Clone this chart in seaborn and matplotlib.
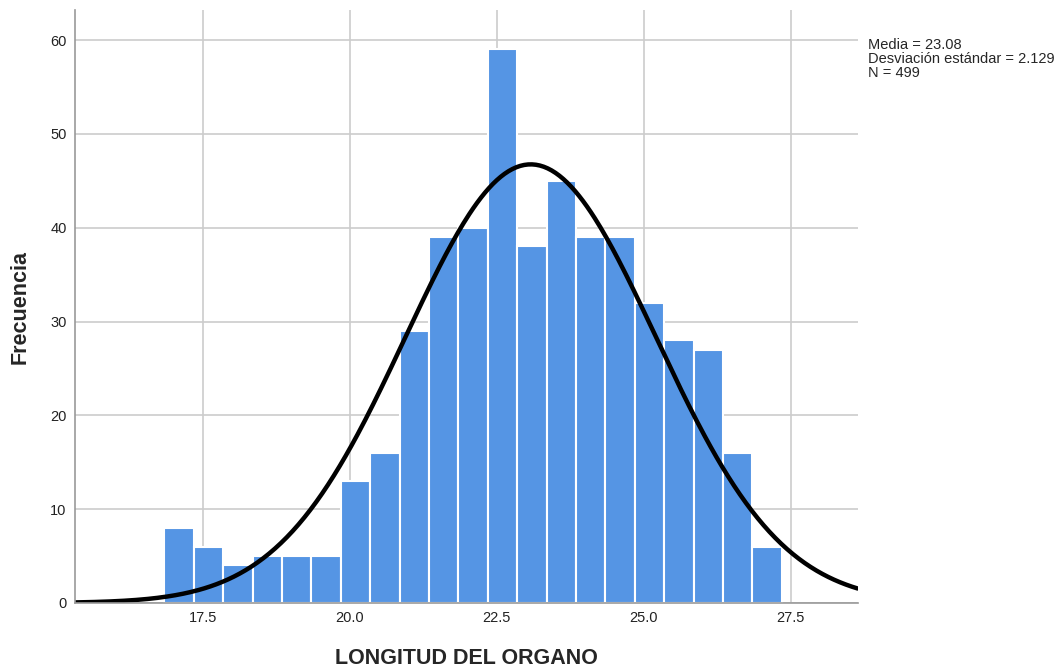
import numpy as np
import pandas as pd
import matplotlib
matplotlib.use("Agg")
import matplotlib.pyplot as plt
import seaborn as sns


# DATA

bin_start = 16.85
bin_width = 0.5
counts = [8, 6, 4, 5, 5, 5, 13, 16, 29, 39, 40, 59, 38, 45, 39, 39, 32, 28, 27, 16, 6]
media = 23.08
desv = 2.129
n_total = 499
x_ticks = [17.5, 20.0, 22.5, 25.0, 27.5]
y_ticks = [0, 10, 20, 30, 40, 50, 60]

edges = [bin_start + bin_width * i for i in range(len(counts) + 1)]
centers = [e + bin_width / 2 for e in edges[:-1]]
hist_df = pd.DataFrame({"longitud": centers, "frecuencia": counts})

# normal curve from the stats shown on the chart
xs = np.linspace(15.33, 28.64, 400)
curve_df = pd.DataFrame({
    "x": xs,
    "y": n_total * bin_width / (desv * np.sqrt(2 * np.pi)) * np.exp(-0.5 * ((xs - media) / desv) ** 2),
})


# PLOT

sns.set_style("white")
plt.rcParams["font.family"] = ["Liberation Sans", "DejaVu Sans"]

fig = plt.figure(figsize=(10.62, 6.7), dpi=100)
ax = fig.add_axes([0.0706, 0.1, 0.737, 0.885])

ax.set_axisbelow(True)
ax.grid(True, color="#cccccc", linewidth=1.2)

sns.histplot(
    data=hist_df,
    x="longitud",
    weights="frecuencia",
    bins=edges,
    color="#5595e4",
    alpha=1,
    edgecolor="white",
    linewidth=1.5,
    ax=ax,
)

sns.lineplot(data=curve_df, x="x", y="y", color="black", linewidth=3.2, ax=ax)

ax.set_xlim(15.33, 28.64)
ax.set_ylim(0, 63.2)
ax.set_xticks(x_ticks)
ax.set_xticklabels([f"{t:.1f}" for t in x_ticks])
ax.set_yticks(y_ticks)
ax.tick_params(axis="both", length=0, labelsize=10.5, colors="#222222", pad=6)

for side in ["top", "right"]:
    ax.spines[side].set_visible(False)
for side in ["left", "bottom"]:
    ax.spines[side].set_color("#999999")
    ax.spines[side].set_linewidth(1.2)

ax.set_xlabel("LONGITUD DEL ORGANO", fontsize=15.5, fontweight="bold", labelpad=16)
ax.set_ylabel("Frecuencia", fontsize=15.5, fontweight="bold", labelpad=14)

fig.text(
    0.817, 0.943,
    f"Media = {media}\nDesviación estándar = {desv}\nN = {n_total}",
    fontsize=10.5, va="top", ha="left", linespacing=1.0,
)

fig.savefig("out.png", dpi=100)
